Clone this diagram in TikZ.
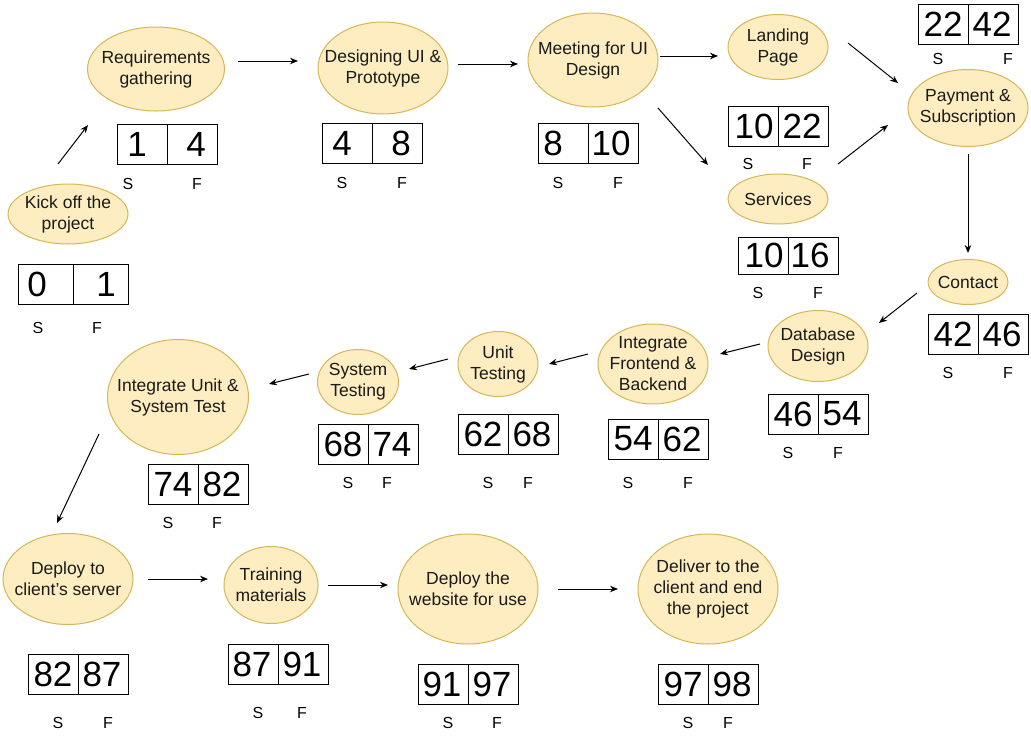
\documentclass[tikz,border=0pt]{standalone}
\usepackage{fontspec}
\setmainfont{Liberation Sans}
\usetikzlibrary{shapes.geometric,arrows.meta}
\definecolor{ellfill}{HTML}{FDEDC0}
\definecolor{ellline}{HTML}{D6B656}
\definecolor{txt}{HTML}{1A1A1A}
\tikzset{
  ell/.style={ellipse,draw=ellline,fill=ellfill,line width=1pt,inner sep=0pt},
  etext/.style={align=center,font=\fontsize{17.5}{21}\selectfont,text=txt,inner sep=0pt},
  nbox/.style={rectangle,draw=black,line width=1pt,inner sep=0pt,minimum width=100pt,minimum height=40pt},
  num/.style={font=\fontsize{35}{40}\selectfont,inner sep=0pt},
  lab/.style={font=\fontsize{16}{18}\selectfont,inner sep=0pt},
  arr/.style={-{Stealth[length=8pt,width=6.5pt]},line width=1pt,black}
}
\newcommand{\ellnode}[5]{%
  \node[ell,minimum width=#3pt,minimum height=#4pt] (#1) at (#2) {};
  \node[etext] (#1-t) at (#1.center) {#5};
}
\begin{document}
\begin{tikzpicture}[x=1pt,y=-1pt]
\useasboundingbox (0,0) rectangle (1031,737);
\fill[white] (0,0) rectangle (1031,737);

% ellipses
\ellnode{kick}{68,214}{120}{60}{Kick off the\\project}
\ellnode{req}{156,69}{137}{84}{Requirements\\gathering}
\ellnode{des}{383,68}{130}{92}{Designing UI \&\\Prototype}
\ellnode{meet}{593,60}{130}{94}{Meeting for UI\\Design}
\ellnode{land}{778,47}{100}{65}{Landing\\Page}
\ellnode{serv}{778,199}{100}{50}{Services}
\ellnode{pay}{968,108}{120}{77}{Payment \&\\Subscription}
\ellnode{cont}{968,282}{80}{45}{Contact}
\ellnode{db}{818,346}{100}{71}{Database\\Design}
\ellnode{ifb}{653,364}{110}{80}{Integrate\\Frontend \&\\Backend}
\ellnode{unit}{498,364}{80}{65}{Unit\\Testing}
\ellnode{sys}{358,382}{81}{65}{System\\Testing}
\ellnode{ius}{178,397}{141}{115}{Integrate Unit \&\\System Test}
\ellnode{dep}{68,579}{130}{91}{Deploy to\\client's server}
\ellnode{train}{271,585}{94}{77}{Training\\materials}
\ellnode{web}{468,589}{140}{110}{Deploy the\\website for use}
\ellnode{del}{708,589}{140}{110}{Deliver to the\\client and end\\the project}

% boxes
\node[nbox,minimum width=110pt] (b0) at (73,284) {};
\draw[line width=1pt] (73,264) -- (73,304);
\node[num] (b0s) at (37,284) {0}; \node[num] (b0f) at (106,284) {1};
\node[lab] (b0S) at (38,328) {S}; \node[lab] (b0F) at (97,328) {F};

\node[nbox] (b1) at (167,144) {};
\draw[line width=1pt] (167,124) -- (167,164);
\node[num] (b1s) at (137,144) {1}; \node[num] (b1f) at (196,144) {4};
\node[lab] (b1S) at (128,184) {S}; \node[lab] (b1F) at (197,184) {F};

\node[nbox] (b2) at (372,143) {};
\draw[line width=1pt] (372,123) -- (372,163);
\node[num] (b2s) at (342,143) {4}; \node[num] (b2f) at (401,143) {8};
\node[lab] (b2S) at (342,183) {S}; \node[lab] (b2F) at (402,183) {F};

\node[nbox] (b3) at (588,143) {};
\draw[line width=1pt] (588,123) -- (588,163);
\node[num] (b3s) at (553,143) {8}; \node[num] (b3f) at (611,143) {10};
\node[lab] (b3S) at (558,183) {S}; \node[lab] (b3F) at (618,183) {F};

\node[nbox] (b4) at (778,126) {};
\draw[line width=1pt] (778,106) -- (778,146);
\node[num] (b4s) at (754,126) {10}; \node[num] (b4f) at (802,126) {22};
\node[lab] (b4S) at (748,164) {S}; \node[lab] (b4F) at (807,164) {F};

\node[nbox,minimum height=37pt] (b5) at (788,255.5) {};
\draw[line width=1pt] (788,237) -- (788,274);
\node[num] (b5s) at (764,255.5) {10}; \node[num] (b5f) at (810,255.5) {16};
\node[lab] (b5S) at (758,293) {S}; \node[lab] (b5F) at (818,293) {F};

\node[nbox] (b6) at (968,24) {};
\draw[line width=1pt] (968,4) -- (968,44);
\node[num] (b6s) at (943,24) {22}; \node[num] (b6f) at (992,24) {42};
\node[lab] (b6S) at (938,59) {S}; \node[lab] (b6F) at (1008,59) {F};

\node[nbox] (b7) at (978,334) {};
\draw[line width=1pt] (978,314) -- (978,354);
\node[num] (b7s) at (953,334) {42}; \node[num] (b7f) at (1002,334) {46};
\node[lab] (b7S) at (948,373) {S}; \node[lab] (b7F) at (1008,373) {F};

\node[nbox] (b8) at (818,414) {};
\draw[line width=1pt] (818,394) -- (818,434);
\node[num] (b8s) at (793,414) {46}; \node[num] (b8f) at (842,414) {54};
\node[lab] (b8S) at (788,453) {S}; \node[lab] (b8F) at (838,453) {F};

\node[nbox] (b9) at (658,439) {};
\draw[line width=1pt] (658,419) -- (658,459);
\node[num] (b9s) at (633,439) {54}; \node[num] (b9f) at (682,439) {62};
\node[lab] (b9S) at (628,483) {S}; \node[lab] (b9F) at (688,483) {F};

\node[nbox] (b10) at (508,434) {};
\draw[line width=1pt] (508,414) -- (508,454);
\node[num] (b10s) at (483,434) {62}; \node[num] (b10f) at (532,434) {68};
\node[lab] (b10S) at (488,483) {S}; \node[lab] (b10F) at (528,483) {F};

\node[nbox] (b11) at (368,444) {};
\draw[line width=1pt] (368,424) -- (368,464);
\node[num] (b11s) at (343,444) {68}; \node[num] (b11f) at (392,444) {74};
\node[lab] (b11S) at (348,483) {S}; \node[lab] (b11F) at (387,483) {F};

\node[nbox] (b12) at (198,484) {};
\draw[line width=1pt] (198,464) -- (198,504);
\node[num] (b12s) at (173,484) {74}; \node[num] (b12f) at (222,484) {82};
\node[lab] (b12S) at (168,523) {S}; \node[lab] (b12F) at (217,523) {F};

\node[nbox] (b13) at (78,674) {};
\draw[line width=1pt] (78,654) -- (78,694);
\node[num] (b13s) at (53,674) {82}; \node[num] (b13f) at (102,674) {87};
\node[lab] (b13S) at (58,723) {S}; \node[lab] (b13F) at (108,723) {F};

\node[nbox] (b14) at (278,664) {};
\draw[line width=1pt] (278,644) -- (278,684);
\node[num] (b14s) at (252,664) {87}; \node[num] (b14f) at (302,664) {91};
\node[lab] (b14S) at (258,713) {S}; \node[lab] (b14F) at (302,713) {F};

\node[nbox] (b15) at (468,684) {};
\draw[line width=1pt] (468,664) -- (468,704);
\node[num] (b15s) at (442,684) {91}; \node[num] (b15f) at (492,684) {97};
\node[lab] (b15S) at (448,723) {S}; \node[lab] (b15F) at (497,723) {F};

\node[nbox] (b16) at (708,684) {};
\draw[line width=1pt] (708,664) -- (708,704);
\node[num] (b16s) at (683,684) {97}; \node[num] (b16f) at (732,684) {98};
\node[lab] (b16S) at (688,723) {S}; \node[lab] (b16F) at (728,723) {F};

% arrow end points
\coordinate (a1s) at (58,164);  \coordinate (a1e) at (88,125);
\coordinate (a2s) at (238,61);  \coordinate (a2e) at (298,61);
\coordinate (a3s) at (458,64);  \coordinate (a3e) at (518,64);
\coordinate (a4s) at (660,56);  \coordinate (a4e) at (718,56);
\coordinate (a5s) at (658,108); \coordinate (a5e) at (708,165);
\coordinate (a6s) at (848,43);  \coordinate (a6e) at (898,83);
\coordinate (a7s) at (838,164); \coordinate (a7e) at (888,125);
\coordinate (a8s) at (968,154); \coordinate (a8e) at (968,253);
\coordinate (a9s) at (917,293); \coordinate (a9e) at (879,323);
\coordinate (a10s) at (760,344); \coordinate (a10e) at (720,354);
\coordinate (a11s) at (588,354); \coordinate (a11e) at (549,364);
\coordinate (a12s) at (448,359); \coordinate (a12e) at (409,369);
\coordinate (a13s) at (309,374); \coordinate (a13e) at (269,384);
\coordinate (a14s) at (99,434);  \coordinate (a14e) at (57,523);
\coordinate (a15s) at (148,579); \coordinate (a15e) at (208,579);
\coordinate (a16s) at (328,585); \coordinate (a16e) at (388,585);
\coordinate (a17s) at (558,589); \coordinate (a17e) at (618,589);

\foreach \i in {1,...,17} { \draw[arr] (a\i s) -- (a\i e); }
\end{tikzpicture}
\end{document}
